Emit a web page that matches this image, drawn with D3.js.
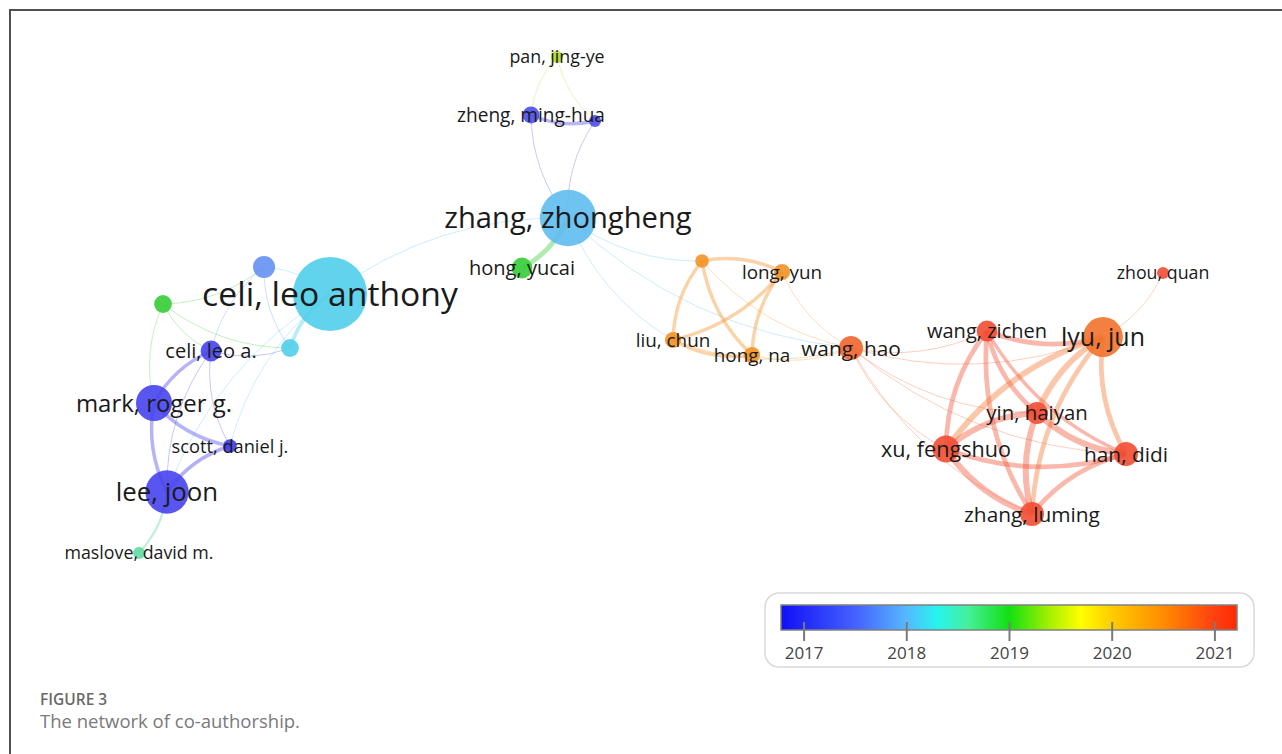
<!DOCTYPE html>
<html>
<head>
<meta charset="utf-8">
<script src="https://cdn.jsdelivr.net/npm/d3@7"></script>
<style>
  body { margin: 0; background: #fff; }
  svg { display: block; font-family: "Open Sans", "DejaVu Sans", sans-serif; }
</style>
</head>
<body>
<script>
const svgWidth = 1282
const svgHeight = 754

// authors (names in brackets are nodes whose label is hidden in the map)
const authors = [
    "pan, jing-ye", "zheng, ming-hua", "(b)", "zhang, zhongheng", "hong, yucai",
    "celi, leo anthony", "(lightblue a)", "(green c)", "(lightblue b)", "celi, leo a.",
    "mark, roger g.", "scott, daniel j.", "lee, joon", "maslove, david m.",
    "(orange a)", "long, yun", "liu, chun", "hong, na", "wang, hao",
    "wang, zichen", "lyu, jun", "zhou, quan", "yin, haiyan", "xu, fengshuo",
    "han, didi", "zhang, luming"
]
// map coordinates
const mapX = [
    -0.166, -0.218, -0.090, -0.144, -0.236,
    -0.620, -0.752, -0.954, -0.700, -0.858,
    -0.972, -0.820, -0.946, -1.002,
    0.124, 0.284, 0.066, 0.224, 0.422,
    0.694, 0.926, 1.046, 0.794, 0.612,
    0.972, 0.784
]
const mapY = [
    0.486, 0.370, 0.358, 0.164, 0.064,
    0.012, 0.066, -0.008, -0.096, -0.102,
    -0.206, -0.292, -0.384, -0.506,
    0.078, 0.056, -0.080, -0.110, -0.096,
    -0.062, -0.074, 0.054, -0.226, -0.298,
    -0.308, -0.428
]
const weights = [
    1, 2, 1, 22, 3,
    38, 3.4, 2.2, 2.2, 3,
    9, 1.3, 13, 1,
    1.3, 1.8, 1.8, 1.8, 4,
    3, 11, 1, 3.4, 5,
    4, 4
]
const avgYear = [
    2019.4, 2017.2, 2017.2, 2018.1, 2019.0,
    2018.2, 2017.8, 2019.0, 2018.2, 2017.1,
    2017.1, 2017.0, 2017.1, 2018.6,
    2020.4, 2020.4, 2020.4, 2020.4, 2020.8,
    2021.0, 2020.7, 2021.0, 2021.0, 2021.0,
    2021.0, 2021.0
]

// co-authorship links: [source, target, strength]
const links = [
    ["pan, jing-ye", "zheng, ming-hua", 1],
    ["pan, jing-ye", "(b)", 1],
    ["zheng, ming-hua", "(b)", 3],
    ["zheng, ming-hua", "zhang, zhongheng", 1],
    ["(b)", "zhang, zhongheng", 1],
    ["hong, yucai", "zhang, zhongheng", 4],
    ["zhang, zhongheng", "celi, leo anthony", 1],
    ["zhang, zhongheng", "liu, chun", 1],
    ["zhang, zhongheng", "(orange a)", 1],
    ["zhang, zhongheng", "wang, hao", 1],
    ["long, yun", "(orange a)", 3],
    ["(orange a)", "liu, chun", 3],
    ["(orange a)", "hong, na", 3],
    ["liu, chun", "long, yun", 3],
    ["long, yun", "hong, na", 3],
    ["liu, chun", "hong, na", 3],
    ["liu, chun", "wang, hao", 1],
    ["hong, na", "wang, hao", 1],
    ["long, yun", "wang, hao", 1],
    ["(orange a)", "wang, hao", 1],
    ["wang, hao", "wang, zichen", 1],
    ["wang, hao", "lyu, jun", 1],
    ["wang, hao", "xu, fengshuo", 1],
    ["wang, hao", "zhang, luming", 1],
    ["wang, hao", "han, didi", 1],
    ["wang, hao", "yin, haiyan", 1],
    ["wang, zichen", "lyu, jun", 4],
    ["wang, zichen", "yin, haiyan", 4],
    ["wang, zichen", "xu, fengshuo", 4],
    ["wang, zichen", "zhang, luming", 4],
    ["wang, zichen", "han, didi", 3],
    ["lyu, jun", "yin, haiyan", 5],
    ["lyu, jun", "xu, fengshuo", 5],
    ["lyu, jun", "han, didi", 4],
    ["lyu, jun", "zhang, luming", 4],
    ["lyu, jun", "zhou, quan", 1],
    ["yin, haiyan", "xu, fengshuo", 5],
    ["yin, haiyan", "han, didi", 5],
    ["yin, haiyan", "zhang, luming", 5],
    ["xu, fengshuo", "han, didi", 4],
    ["xu, fengshuo", "zhang, luming", 5],
    ["han, didi", "zhang, luming", 4],
    ["celi, leo anthony", "(lightblue a)", 1],
    ["celi, leo anthony", "(lightblue b)", 3],
    ["celi, leo anthony", "lee, joon", 1],
    ["celi, leo anthony", "scott, daniel j.", 1],
    ["(green c)", "(lightblue a)", 1],
    ["(green c)", "celi, leo a.", 1],
    ["(green c)", "mark, roger g.", 1],
    ["(green c)", "(lightblue b)", 1],
    ["(lightblue a)", "celi, leo a.", 1],
    ["(lightblue a)", "(lightblue b)", 1],
    ["celi, leo a.", "(lightblue b)", 1],
    ["celi, leo a.", "mark, roger g.", 3],
    ["celi, leo a.", "lee, joon", 1],
    ["celi, leo a.", "scott, daniel j.", 1],
    ["mark, roger g.", "scott, daniel j.", 3],
    ["mark, roger g.", "lee, joon", 3],
    ["scott, daniel j.", "lee, joon", 3],
    ["maslove, david m.", "lee, joon", 2]
]

// colour legend
const legendYears = [2017, 2018, 2019, 2020, 2021]
const yearStops = [2016.78, 2017.5, 2018, 2018.3, 2018.6, 2019, 2019.4, 2019.7, 2020, 2020.5, 2021, 2021.22]
const yearColors = ["#1010f5", "#4560ff", "#55b8ff", "#25f5ee", "#45f09a", "#12e012", "#a8f000", "#ffff00", "#ffcc00", "#ff8c00", "#ff4010", "#ff2a00"]

const svg = d3.select("body").append("svg")
    .attr("width", svgWidth)
    .attr("height", svgHeight)

// frame
svg.append("path")
    .attr("d", `M10,${svgHeight} V10 H${svgWidth}`)
    .attr("fill", "none")
    .attr("stroke", "#505050")
    .attr("stroke-width", 2)

const x = d3.scaleLinear().domain([-1, 1]).range([140, 1140])
const y = d3.scaleLinear().domain([-1, 1]).range([800, -200])
const r = d3.scaleSqrt().domain([0, 38]).range([0, 37])
const fontSize = d3.scaleLinear().domain([6, 37]).range([17.8, 33.7])
const color = d3.scaleLinear().domain(yearStops).range(yearColors).clamp(true)
// nodes are drawn a little softer than the legend colours
const nodeColor = yr => d3.interpolateRgb(color(yr), "#c080c0")(0.2)

const nodes = authors.map((a, i) => ({
    id: a,
    hidden: a.startsWith("("),
    px: x(mapX[i]),
    py: y(mapY[i]),
    r: r(weights[i]),
    year: avgYear[i]
}))
const byId = new Map(nodes.map(n => [n.id, n]))

const width = d3.scaleLinear().domain([1, 5]).range([1, 6])

const curve = (s, t) => {
    const dx = t.px - s.px, dy = t.py - s.py
    const k = 0.17
    const cx = (s.px + t.px) / 2 - dy * k
    const cy = (s.py + t.py) / 2 + dx * k
    return `M${s.px},${s.py}Q${cx},${cy} ${t.px},${t.py}`
}

const mapG = svg.append("g")

mapG.append("g").selectAll("path")
    .data(links.slice().sort((a, b) => a[2] - b[2]))
    .join("path")
    .attr("d", d => curve(byId.get(d[0]), byId.get(d[1])))
    .attr("fill", "none")
    .attr("stroke", d => nodeColor(byId.get(d[0]).year))
    .attr("stroke-opacity", d => d[2] > 1 ? 0.4 : 0.3)
    .attr("stroke-width", d => width(d[2]))

mapG.append("g").selectAll("circle")
    .data(nodes)
    .join("circle")
    .attr("cx", d => d.px)
    .attr("cy", d => d.py)
    .attr("r", d => d.r)
    .attr("fill", d => nodeColor(d.year))
    .attr("fill-opacity", 0.9)

mapG.append("g").selectAll("text")
    .data(nodes.filter(d => !d.hidden))
    .join("text")
    .attr("x", d => d.px)
    .attr("y", d => d.py)
    .attr("dy", "0.36em")
    .attr("text-anchor", "middle")
    .attr("font-size", d => fontSize(d.r))
    .attr("fill", "#1a1a1a")
    .text(d => d.id)

// legend
const legendG = svg.append("g")
legendG.append("rect")
    .attr("x", 765).attr("y", 593)
    .attr("width", 489).attr("height", 74)
    .attr("rx", 14)
    .attr("fill", "#fff")
    .attr("stroke", "#d9d9d9")
    .attr("stroke-width", 1.5)

const yearScale = d3.scaleLinear().domain([2016.78, 2021.22]).range([781, 1237])

const grad = svg.append("defs").append("linearGradient")
    .attr("id", "yearGrad")
grad.selectAll("stop")
    .data(yearStops)
    .join("stop")
    .attr("offset", d => (d - 2016.78) / (2021.22 - 2016.78))
    .attr("stop-color", d => color(d))

legendG.append("rect")
    .attr("x", 781).attr("y", 605)
    .attr("width", 456).attr("height", 25)
    .attr("fill", "url(#yearGrad)")
    .attr("stroke", "#808080")
    .attr("stroke-width", 1.5)

const legendAxis = legendG.append("g")
    .attr("transform", "translate(0, 622)")
    .call(d3.axisBottom(yearScale).tickValues(legendYears).tickFormat(d3.format("d")).tickSize(19).tickPadding(6))
legendAxis.select(".domain").remove()
legendAxis.selectAll(".tick line").attr("stroke", "#7a7a7a").attr("stroke-width", 2)
legendAxis.selectAll(".tick text")
    .attr("font-family", "Open Sans, sans-serif")
    .attr("font-size", 17)
    .attr("fill", "#444")

// caption
svg.append("text")
    .attr("x", 40).attr("y", 705)
    .attr("font-size", 15.5)
    .attr("font-weight", 600)
    .attr("fill", "#6a6a6a")
    .text("FIGURE 3")
svg.append("text")
    .attr("x", 40).attr("y", 728)
    .attr("font-size", 18.5)
    .attr("fill", "#7a7a7a")
    .text("The network of co-authorship.")
</script>
</body>
</html>
